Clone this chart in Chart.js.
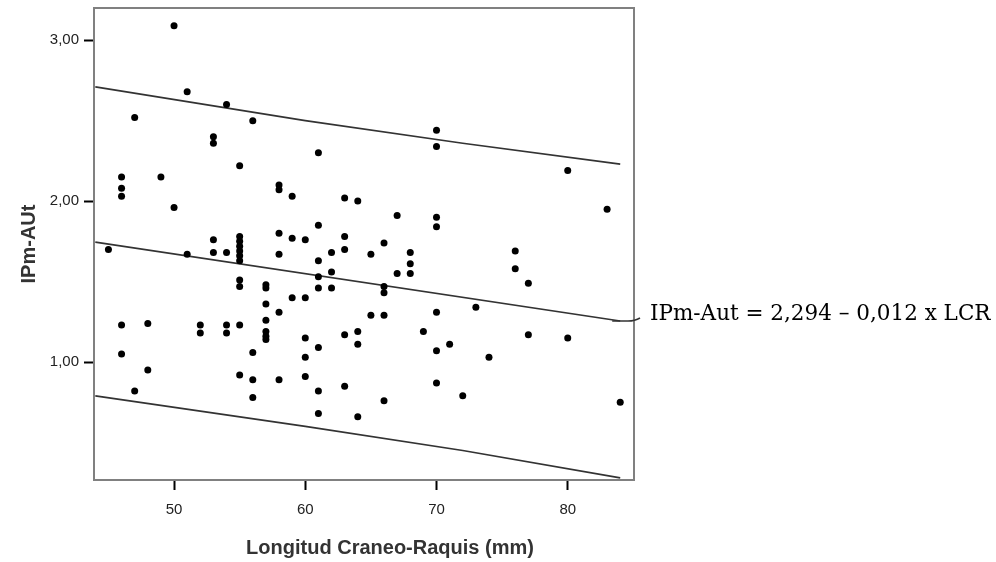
<!DOCTYPE html>
<html>
<head>
<meta charset="utf-8">
<script src="https://cdn.jsdelivr.net/npm/chart.js@4"></script>
<style>
  body { margin: 0; background: #fff; }
  #wrap { width: 996px; height: 562px; }
</style>
</head>
<body>
<div id="wrap"><canvas id="myChart"></canvas></div>
<script>
// Longitud Craneo-Raquis (mm) and IPm-AUt
const lcr = [50, 51, 54, 47, 56, 53, 53, 55, 46, 46, 46, 49, 50, 58, 58, 58, 53, 45, 51, 53,
  54, 55, 55, 55, 55, 55, 55, 58, 55, 55, 57, 57, 57, 58, 57, 57, 57, 57, 46, 48,
  52, 52, 54, 54, 55, 46, 48, 47, 56, 55, 56, 56, 58, 70, 70, 61, 59, 63, 64, 67,
  70, 70, 59, 60, 61, 63, 66, 61, 62, 63, 65, 68, 68, 68, 67, 61, 61, 62, 62, 66,
  66, 59, 60, 65, 66, 70, 69, 63, 64, 64, 60, 61, 60, 70, 71, 60, 61, 63, 70, 72,
  66, 61, 64, 76, 76, 77, 73, 77, 80, 74, 84, 80, 83];
const ipm = [3.09, 2.68, 2.60, 2.52, 2.50, 2.40, 2.36, 2.22, 2.15, 2.08, 2.03, 2.15, 1.96, 2.10, 2.07, 1.80, 1.76, 1.70, 1.67, 1.68,
  1.68, 1.78, 1.75, 1.72, 1.69, 1.66, 1.63, 1.67, 1.51, 1.47, 1.48, 1.46, 1.36, 1.31, 1.26, 1.19, 1.16, 1.14, 1.23, 1.24,
  1.23, 1.18, 1.23, 1.18, 1.23, 1.05, 0.95, 0.82, 1.06, 0.92, 0.89, 0.78, 0.89, 2.44, 2.34, 2.30, 2.03, 2.02, 2.00, 1.91,
  1.90, 1.84, 1.77, 1.76, 1.85, 1.78, 1.74, 1.63, 1.68, 1.70, 1.67, 1.68, 1.61, 1.55, 1.55, 1.53, 1.46, 1.56, 1.46, 1.47,
  1.43, 1.40, 1.40, 1.29, 1.29, 1.31, 1.19, 1.17, 1.19, 1.11, 1.15, 1.09, 1.03, 1.07, 1.11, 0.91, 0.82, 0.85, 0.87, 0.79,
  0.76, 0.68, 0.66, 1.69, 1.58, 1.49, 1.34, 1.17, 1.15, 1.03, 0.75, 2.19, 1.95];

// fit line and prediction bands
const fitX = [44, 84];
const fitY = [1.745, 1.255];
const bandX = [44, 60, 72, 84];
const upperY = [2.71, 2.50, 2.36, 2.23];
const lowerY = [0.79, 0.60, 0.45, 0.28];

const xTicks = [50, 60, 70, 80];
const yTicks = [1, 2, 3];
const xTitle = 'Longitud Craneo-Raquis (mm)';
const equation = 'IPm-Aut = 2,294 \u2013 0,012 x LCR';

const sans = 'Arial, "Liberation Sans", sans-serif';
const pts = (xs, ys) => xs.map((v, i) => ({ x: v, y: ys[i] }));

const extras = {
  id: 'extras',
  afterDraw(chart) {
    const { ctx, chartArea: a, scales: { x, y } } = chart;
    ctx.save();
    ctx.strokeStyle = '#808080';
    ctx.lineWidth = 2;
    ctx.strokeRect(a.left, a.top, a.right - a.left, a.bottom - a.top);
    // leader from the fit line to the equation
    const x0 = x.getPixelForValue(fitX[1]);
    const y0 = y.getPixelForValue(fitY[1]);
    ctx.strokeStyle = '#333';
    ctx.lineWidth = 1.6;
    ctx.beginPath();
    ctx.moveTo(x0 - 8, y0);
    ctx.lineTo(a.right - 6, y0);
    ctx.quadraticCurveTo(a.right + 1, y0, a.right + 6, y0 - 3);
    ctx.stroke();
    ctx.fillStyle = '#000';
    ctx.font = '21.5px "DejaVu Serif", serif';
    ctx.textBaseline = 'middle';
    ctx.fillText(equation, a.right + 16, y0 - 7);
    // x title sits a little right of the plot centre
    ctx.fillStyle = '#333';
    ctx.font = 'bold 20px ' + sans;
    ctx.textAlign = 'center';
    ctx.fillText(xTitle, (a.left + a.right) / 2 + 26, 548);
    ctx.restore();
  }
};

const lineSet = (data) => ({
  data, showLine: true, pointRadius: 0, borderColor: '#333', borderWidth: 1.6, fill: false
});

const ctx = document.getElementById('myChart').getContext('2d');
const myChart = new Chart(ctx, {
  type: 'scatter',
  data: {
    datasets: [
      { data: pts(lcr, ipm), pointRadius: 3.5, pointBackgroundColor: '#000', pointBorderWidth: 0, borderColor: '#000' },
      lineSet(pts(fitX, fitY)),
      lineSet(pts(bandX, upperY)),
      lineSet(pts(bandX, lowerY))
    ]
  },
  options: {
    responsive: true,
    maintainAspectRatio: false,
    animation: false,
    layout: { padding: { left: 0, top: 8, right: 362, bottom: 0 } },
    plugins: { legend: { display: false }, tooltip: { enabled: false } },
    scales: {
      x: {
        type: 'linear',
        min: 43.9,
        max: 85.05,
        afterBuildTicks: (s) => { s.ticks = xTicks.map(v => ({ value: v })); },
        afterFit: (s) => { s.height = 82; s.paddingLeft = 0; s.paddingRight = 0; },
        grid: { drawOnChartArea: false, tickLength: 10, tickColor: '#000', tickWidth: 2 },
        border: { color: '#808080', width: 2 },
        ticks: { color: '#222', font: { family: sans, size: 15 }, padding: 11 }
      },
      y: {
        min: 0.267,
        max: 3.2,
        afterBuildTicks: (s) => { s.ticks = yTicks.map(v => ({ value: v })); },
        afterFit: (s) => { s.width = 94; s.paddingTop = 0; s.paddingBottom = 0; },
        grid: { drawOnChartArea: false, tickLength: 10, tickColor: '#000', tickWidth: 2 },
        border: { color: '#808080', width: 2 },
        ticks: {
          color: '#222',
          font: { family: sans, size: 15 },
          padding: 5,
          callback: (v) => v.toFixed(2).replace('.', ',')
        },
        title: {
          display: true,
          text: 'IPm-AUt',
          color: '#333',
          font: { family: sans, size: 20, weight: 'bold' },
          padding: { top: 17, bottom: 0 }
        }
      }
    }
  },
  plugins: [extras]
});
</script>
</body>
</html>
